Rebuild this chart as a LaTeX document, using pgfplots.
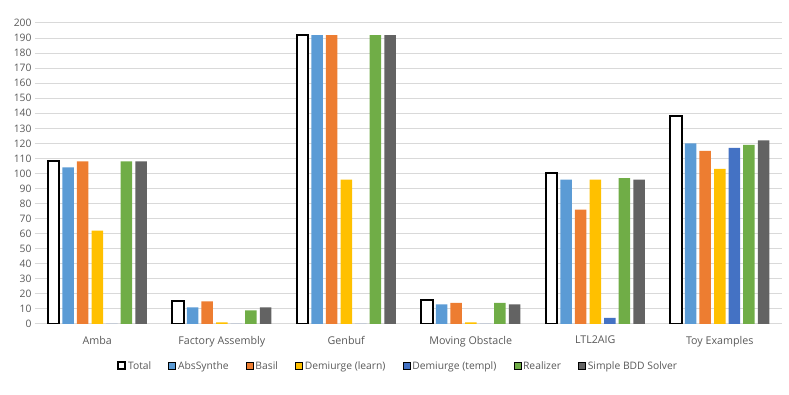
\documentclass[border=0pt]{standalone}
\usepackage{pgfplots}
\pgfplotsset{compat=1.18}
\usepackage{fontspec}
\setmainfont{Open Sans}
\definecolor{txtgray}{HTML}{595959}
\definecolor{gridgray}{HTML}{D9D9D9}
\definecolor{cAbs}{HTML}{5B9BD5}
\definecolor{cBasil}{HTML}{ED7D31}
\definecolor{cLearn}{HTML}{FFC000}
\definecolor{cTempl}{HTML}{4472C4}
\definecolor{cReal}{HTML}{70AD47}
\definecolor{cBDD}{HTML}{636363}

\begin{document}
\begin{tikzpicture}
  \path[use as bounding box] (0pt,0pt) rectangle (789pt,395pt);
  \begin{axis}[
    at={(35pt,71pt)}, anchor=south west,
    scale only axis,
    width=747pt, height=301pt,
    ybar=3.1pt, bar width=11.5pt,
    xmin=-0.5, xmax=5.5,
    ymin=0, ymax=200,
    ytick distance=10,
    xtick={0,1,2,3,4,5},
    xticklabels={Amba,Factory Assembly,Genbuf,Moving Obstacle,LTL2AIG,Toy Examples},
    major tick length=0pt,
    axis line style={draw=none},
    ymajorgrids,
    major grid style={gridgray, line width=1pt},
    tick label style={font=\fontsize{10.3}{12}\selectfont, text=txtgray},
    xticklabel style={yshift=-8.5pt, font=\fontsize{10.7}{12}\selectfont},
    /pgf/number format/assume math mode=true,
    legend image code/.code={\draw[#1] (0pt,-3.5pt) rectangle (7pt,3.5pt);},
    legend columns=-1,
    legend style={draw=none, at={(0.486,-0.1395)}, anchor=center,
      font=\fontsize{10.3}{12}\selectfont, text=txtgray,
      nodes={inner sep=2.2pt},
      /tikz/every even column/.append style={column sep=15pt}},
  ]
    \addplot[fill=white, draw=black, line width=2pt] coordinates {(0,108) (1,15) (2,192) (3,16) (4,100) (5,138)};
    \addplot[fill=cAbs, draw=none] coordinates {(0,104) (1,11) (2,192) (3,13) (4,96) (5,120)};
    \addplot[fill=cBasil, draw=none] coordinates {(0,108) (1,15) (2,192) (3,14) (4,76) (5,115)};
    \addplot[fill=cLearn, draw=none] coordinates {(0,62) (1,1) (2,96) (3,1) (4,96) (5,103)};
    \addplot[fill=cTempl, draw=none] coordinates {(0,0) (1,0) (2,0) (3,0) (4,4) (5,117)};
    \addplot[fill=cReal, draw=none] coordinates {(0,108) (1,9) (2,192) (3,14) (4,97) (5,119)};
    \addplot[fill=cBDD, draw=none] coordinates {(0,108) (1,11) (2,192) (3,13) (4,96) (5,122)};
    \legend{Total,AbsSynthe,Basil,Demiurge (learn),Demiurge (templ),Realizer,Simple BDD Solver}
  \end{axis}
\end{tikzpicture}
\end{document}
